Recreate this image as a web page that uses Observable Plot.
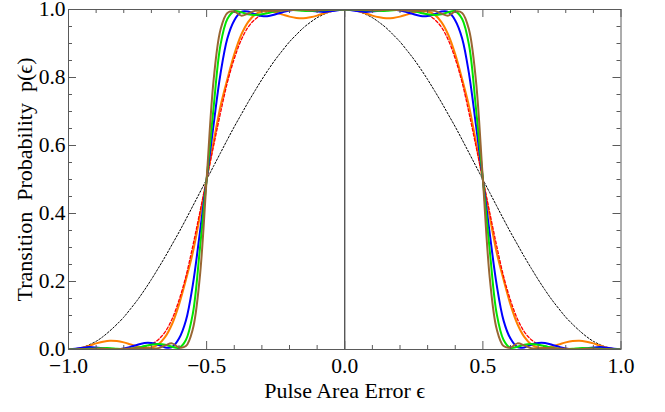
<!DOCTYPE html>
<html>
<head>
<meta charset="utf-8">
<script src="https://cdn.jsdelivr.net/npm/d3@7"></script>
<script src="https://cdn.jsdelivr.net/npm/@observablehq/plot@0.6"></script>
<style>
  html, body { margin: 0; padding: 0; background: #fff; }
  #chart svg { display: block; }
</style>
</head>
<body>
<div id="chart"></div>
<script>
// ---- data ----
const eps = [-1,-0.975,-0.95,-0.925,-0.9,-0.875,-0.85,-0.825,-0.8,-0.775,-0.75,-0.725,-0.7,-0.675,-0.65,-0.625,-0.6,-0.575,-0.55,-0.525,
  -0.5,-0.475,-0.45,-0.425,-0.4,-0.375,-0.35,-0.325,-0.3,-0.275,-0.25,-0.225,-0.2,-0.175,-0.15,-0.125,-0.1,-0.075,-0.05,-0.025,
  0,
  0.025,0.05,0.075,0.1,0.125,0.15,0.175,0.2,0.225,0.25,0.275,0.3,0.325,0.35,0.375,0.4,0.425,0.45,0.475,
  0.5,0.525,0.55,0.575,0.6,0.625,0.65,0.675,0.7,0.725,0.75,0.775,0.8,0.825,0.85,0.875,0.9,0.925,0.95,0.975,1];

// single pulse (black dashed)
const pSingle = [0,0.002,0.006,0.014,0.024,0.038,0.055,0.074,0.095,0.120,0.146,0.175,0.206,0.239,0.273,0.309,0.345,0.383,0.422,0.461,
  0.5,0.539,0.578,0.617,0.655,0.691,0.727,0.761,0.794,0.825,0.854,0.880,0.905,0.926,0.946,0.962,0.976,0.986,0.994,0.998,
  1,
  0.998,0.994,0.986,0.976,0.962,0.946,0.926,0.905,0.880,0.854,0.825,0.794,0.761,0.727,0.691,0.655,0.617,0.578,0.539,
  0.5,0.461,0.422,0.383,0.345,0.309,0.273,0.239,0.206,0.175,0.146,0.120,0.095,0.074,0.055,0.038,0.024,0.014,0.006,0.002,0];

// red dashed
const pRed = [0,0,0,0,0,0,0,0.001,0.001,0.002,0.004,0.008,0.015,0.029,0.052,0.09,0.145,0.215,0.305,0.402,
  0.5,0.598,0.695,0.785,0.855,0.91,0.948,0.971,0.985,0.992,0.996,0.998,0.999,0.999,1,1,1,1,1,1,
  1,
  1,1,1,1,1,1,0.999,0.999,0.998,0.996,0.992,0.985,0.971,0.948,0.91,0.855,0.785,0.695,0.598,
  0.5,0.402,0.305,0.215,0.145,0.09,0.052,0.029,0.015,0.008,0.004,0.002,0.001,0.001,0,0,0,0,0,0,0];

// orange
const pOrange = [0,0.001,0.005,0.011,0.018,0.023,0.026,0.025,0.021,0.015,0.009,0.005,0.006,0.015,0.037,0.075,0.132,0.205,0.285,0.39,
  0.5,0.61,0.715,0.795,0.868,0.925,0.963,0.985,0.994,0.995,0.991,0.985,0.979,0.975,0.974,0.977,0.982,0.989,0.995,0.999,
  1,
  0.999,0.995,0.989,0.982,0.977,0.974,0.975,0.979,0.985,0.991,0.995,0.994,0.985,0.963,0.925,0.868,0.795,0.715,0.61,
  0.5,0.39,0.285,0.205,0.132,0.075,0.037,0.015,0.006,0.005,0.009,0.015,0.021,0.025,0.026,0.023,0.018,0.011,0.005,0.001,0];

// blue
const pBlue = [0,0.002,0.005,0.007,0.006,0.004,0.002,0.001,0.003,0.008,0.014,0.019,0.019,0.014,0.006,0.007,0.032,0.085,0.19,0.34,
  0.5,0.66,0.81,0.915,0.968,0.993,0.994,0.986,0.981,0.981,0.986,0.992,0.997,0.999,0.998,0.996,0.994,0.993,0.995,0.998,
  1,
  0.998,0.995,0.993,0.994,0.996,0.998,0.999,0.997,0.992,0.986,0.981,0.981,0.986,0.994,0.993,0.968,0.915,0.81,0.66,
  0.5,0.34,0.19,0.085,0.032,0.007,0.006,0.014,0.019,0.019,0.014,0.008,0.003,0.001,0.002,0.004,0.006,0.007,0.005,0.002,0];

// green
const pGreen = [0,0,0.001,0.002,0.003,0.004,0.004,0.002,0.001,0.002,0.005,0.01,0.014,0.016,0.014,0.008,0.005,0.028,0.105,0.29,
  0.5,0.71,0.895,0.972,0.995,0.992,0.986,0.984,0.986,0.99,0.995,0.998,0.999,0.998,0.996,0.996,0.997,0.998,0.999,1,
  1,
  1,0.999,0.998,0.997,0.996,0.996,0.998,0.999,0.998,0.995,0.99,0.986,0.984,0.986,0.992,0.995,0.972,0.895,0.71,
  0.5,0.29,0.105,0.028,0.005,0.008,0.014,0.016,0.014,0.01,0.005,0.002,0.001,0.002,0.004,0.004,0.003,0.002,0.001,0,0];

// brown
const pBrown = [0,0,0.001,0.001,0.002,0.002,0.001,0.001,0.002,0.003,0.004,0.004,0.003,0.004,0.012,0.018,0.006,0.01,0.06,0.21,
  0.5,0.79,0.94,0.99,0.994,0.982,0.988,0.996,0.997,0.996,0.996,0.997,0.998,0.999,0.999,0.998,0.998,0.999,0.999,1,
  1,
  1,0.999,0.999,0.998,0.998,0.999,0.999,0.998,0.997,0.996,0.996,0.997,0.996,0.988,0.982,0.994,0.99,0.94,0.79,
  0.5,0.21,0.06,0.01,0.006,0.018,0.012,0.004,0.003,0.004,0.004,0.003,0.002,0.001,0.001,0.002,0.002,0.001,0.001,0,0];

const xTickValues = [-1, -0.5, 0, 0.5, 1];
const xTickLabels = ["\u22121.0", "\u22120.5", "0.0", "0.5", "1.0"];
const xMinorTicks = [-0.9,-0.8,-0.7,-0.6,-0.4,-0.3,-0.2,-0.1,0.1,0.2,0.3,0.4,0.6,0.7,0.8,0.9];
const yTickValues = [0, 0.2, 0.4, 0.6, 0.8, 1];
const yTickLabels = ["0.0", "0.2", "0.4", "0.6", "0.8", "1.0"];
const yMinorTicks = [0.05,0.1,0.15,0.25,0.3,0.35,0.45,0.5,0.55,0.65,0.7,0.75,0.85,0.9,0.95];
const xTitle = "Pulse Area Error \u03F5";
const yTitle = "Transition\u00A0 Probability\u00A0 p(\u03F5)";

// ---- layout & styles ----
const W = 665, H = 412;
const mL = 68, mR = 44.5, mT = 9, mB = 63;
const innerW = W - mL - mR, innerH = H - mT - mB;
const frameColor = "#5a5a5a";
const font = '"Liberation Serif", "Times New Roman", Times, serif';

const rows = vals => eps.map((x, i) => ({x, p: vals[i]}));
const lineOpts = (stroke, strokeWidth, dash) => ({
  x: "x", y: "p", stroke, strokeWidth, strokeDasharray: dash, curve: "catmull-rom", clip: true
});

const chart = Plot.plot({
  width: W, height: H,
  marginLeft: mL, marginRight: mR, marginTop: mT, marginBottom: mB,
  x: {domain: [-1, 1]},
  y: {domain: [0, 1]},
  style: {fontFamily: font, background: "#fff", color: "#000"},
  marks: [
    Plot.ruleX([0], {stroke: "#3a3a3a", strokeWidth: 1.2}),
    Plot.line(rows(pSingle), lineOpts("#000", 1, "1.8,1.8")),
    Plot.line(rows(pOrange), lineOpts("#ff8000", 2)),
    Plot.line(rows(pRed), lineOpts("#ff0000", 1.3, "3,2")),
    Plot.line(rows(pBlue), lineOpts("#0000ff", 2)),
    Plot.line(rows(pGreen), lineOpts("#00e600", 2)),
    Plot.line(rows(pBrown), lineOpts("#996633", 2)),
    Plot.frame({stroke: frameColor, strokeWidth: 1}),
    // inward ticks, bottom/top
    Plot.tickX(xTickValues, {x: d => d, insetTop: innerH - 8, stroke: frameColor}),
    Plot.tickX(xTickValues, {x: d => d, insetBottom: innerH - 8, stroke: frameColor}),
    Plot.tickX(xMinorTicks, {x: d => d, insetTop: innerH - 4, stroke: frameColor}),
    Plot.tickX(xMinorTicks, {x: d => d, insetBottom: innerH - 4, stroke: frameColor}),
    // inward ticks, left/right
    Plot.tickY(yTickValues, {y: d => d, insetRight: innerW - 8, stroke: frameColor}),
    Plot.tickY(yTickValues, {y: d => d, insetLeft: innerW - 8, stroke: frameColor}),
    Plot.tickY(yMinorTicks, {y: d => d, insetRight: innerW - 4, stroke: frameColor}),
    Plot.tickY(yMinorTicks, {y: d => d, insetLeft: innerW - 4, stroke: frameColor}),
    // tick labels
    Plot.axisX({ticks: xTickValues, tickFormat: d => xTickLabels[xTickValues.indexOf(d)],
      tickSize: 0, tickPadding: 8, fontSize: 21.5, label: null}),
    Plot.axisY({ticks: yTickValues, tickFormat: d => yTickLabels[yTickValues.indexOf(d)],
      tickSize: 0, tickPadding: 3, fontSize: 21.5, label: null}),
    // titles
    Plot.text([xTitle], {text: d => d, frameAnchor: "bottom", lineAnchor: "middle", textAnchor: "middle",
      dy: 41, fontSize: 22, fill: "#000"}),
    Plot.text([yTitle], {text: d => d, frameAnchor: "left", textAnchor: "middle", lineAnchor: "middle",
      rotate: -90, dx: -44, fontSize: 22, fill: "#000"})
  ]
});
document.getElementById("chart").appendChild(chart);
</script>
</body>
</html>
